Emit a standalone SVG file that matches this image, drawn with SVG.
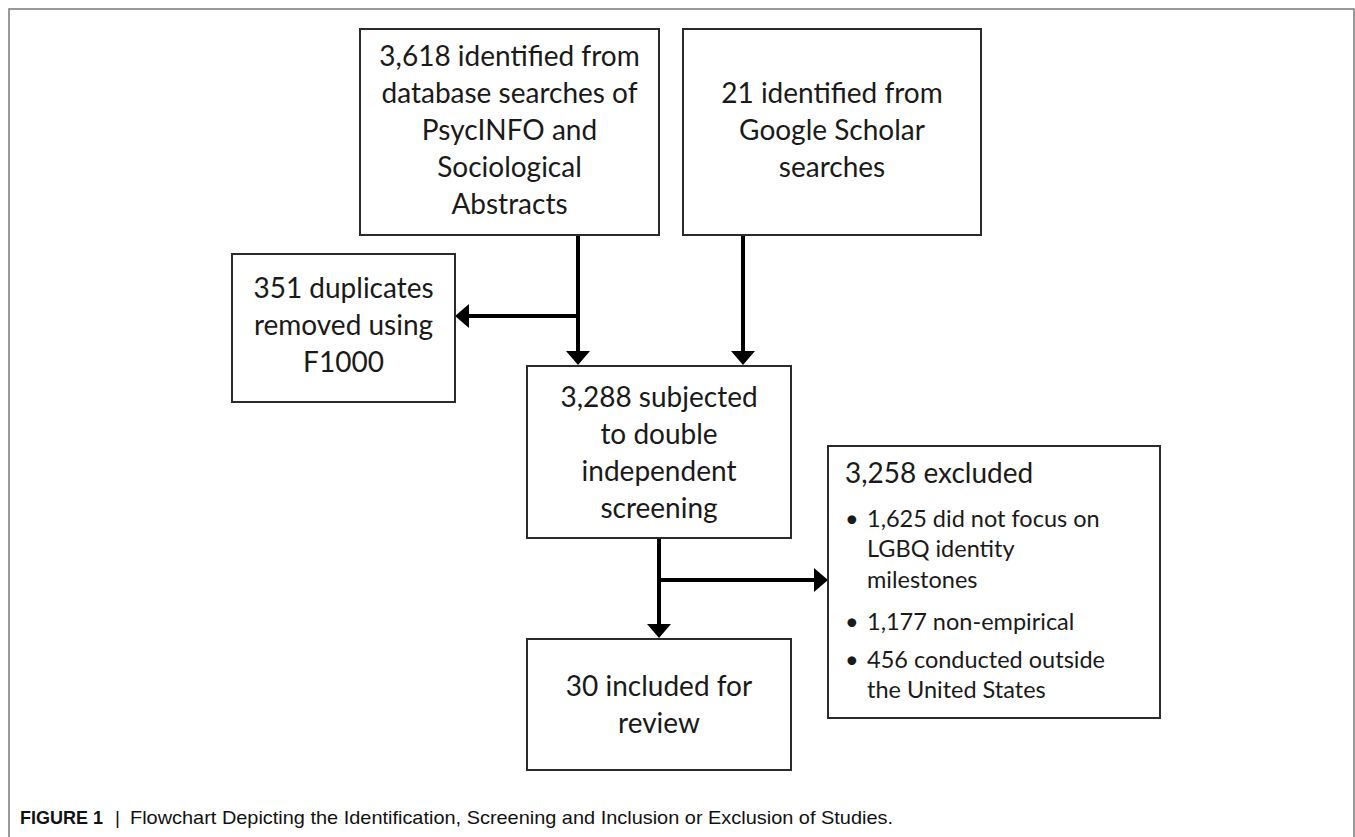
<svg xmlns="http://www.w3.org/2000/svg" width="1355" height="837" viewBox="0 0 1355 837">
<style>
.box{fill:#fff;stroke:#2b2b2b;stroke-width:2}
.t{font-family:Lato,"Open Sans","Liberation Sans",sans-serif;font-size:28px;fill:#1a1a1a;text-anchor:middle}
.tl{font-family:Lato,"Open Sans","Liberation Sans",sans-serif;font-size:28px;fill:#1a1a1a}
.b{font-family:Lato,"Open Sans","Liberation Sans",sans-serif;font-size:23.5px;fill:#1a1a1a}
.c{fill:none;stroke:#000;stroke-width:4;marker-end:url(#ah)}
.cap{font-family:"Liberation Sans",Arial,sans-serif;font-size:19px;fill:#111}
</style>
<defs>
<marker id="ah" viewBox="0 0 14 24" markerWidth="14" markerHeight="24" refX="4" refY="12" orient="auto" markerUnits="userSpaceOnUse">
<path d="M0,0 L14,12 L0,24 z" fill="#000"/>
</marker>
</defs>
<rect width="1355" height="837" fill="#fff"/>
<path d="M9,840 V9 H1354 V840" fill="none" stroke="#7a7a7a" stroke-width="1.5"/>

<g id="connectors">
<path class="c" d="M578,236 V355"/>
<path class="c" d="M743,236 V355"/>
<path class="c" d="M578,316 H465"/>
<path class="c" d="M659,539 V628"/>
<path class="c" d="M659,580 H818"/>
</g>

<g id="n1">
<rect class="box" x="360" y="29" width="299" height="206"/>
<text class="t" x="509.5" y="66">3,618 identified from</text>
<text class="t" x="509.5" y="103">database searches of</text>
<text class="t" x="509.5" y="140">PsycINFO and</text>
<text class="t" x="509.5" y="177">Sociological</text>
<text class="t" x="509.5" y="214">Abstracts</text>
</g>

<g id="n2">
<rect class="box" x="683" y="29" width="298" height="206"/>
<text class="t" x="832" y="103">21 identified from</text>
<text class="t" x="832" y="140">Google Scholar</text>
<text class="t" x="832" y="177">searches</text>
</g>

<g id="n3">
<rect class="box" x="232" y="254" width="223" height="148"/>
<text class="t" x="343.5" y="298">351 duplicates</text>
<text class="t" x="343.5" y="335">removed using</text>
<text class="t" x="343.5" y="372">F1000</text>
</g>

<g id="n4">
<rect class="box" x="527" y="366" width="264" height="172"/>
<text class="t" x="659" y="407">3,288 subjected</text>
<text class="t" x="659" y="444">to double</text>
<text class="t" x="659" y="481">independent</text>
<text class="t" x="659" y="518">screening</text>
</g>

<g id="n5">
<rect class="box" x="527" y="639" width="264" height="131"/>
<text class="t" x="659" y="696">30 included for</text>
<text class="t" x="659" y="733">review</text>
</g>

<g id="n6">
<rect class="box" x="828" y="446" width="332" height="272"/>
<text class="tl" x="845" y="483">3,258 excluded</text>
<text class="b" x="845" y="527">•</text>
<text class="b" x="867" y="527">1,625 did not focus on</text>
<text class="b" x="867" y="557">LGBQ identity</text>
<text class="b" x="867" y="588">milestones</text>
<text class="b" x="845" y="630">•</text>
<text class="b" x="867" y="630">1,177 non-empirical</text>
<text class="b" x="845" y="668">•</text>
<text class="b" x="867" y="668">456 conducted outside</text>
<text class="b" x="867" y="698">the United States</text>
</g>

<g id="caption">
<text class="cap" x="20" y="824" font-weight="bold" textLength="83" lengthAdjust="spacingAndGlyphs">FIGURE 1</text>
<text class="cap" x="115" y="824" fill="#777">|</text>
<text class="cap" x="130" y="824" textLength="763" lengthAdjust="spacingAndGlyphs">Flowchart Depicting the Identification, Screening and Inclusion or Exclusion of Studies.</text>
</g>
</svg>
